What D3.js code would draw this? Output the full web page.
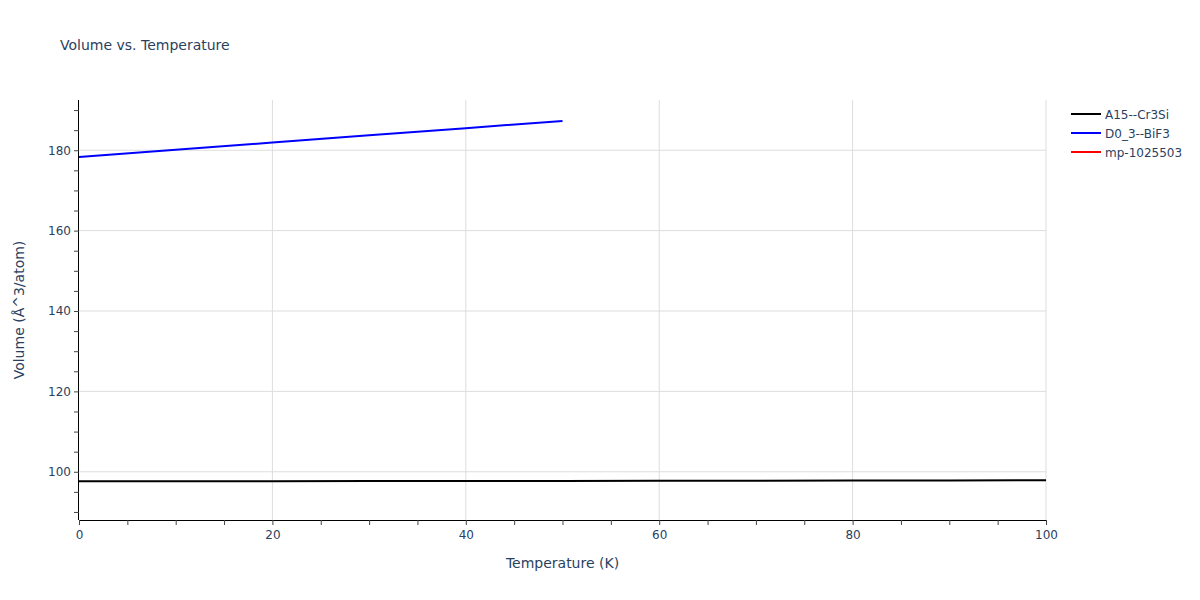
<!DOCTYPE html>
<html><head><meta charset="utf-8">
<script src="https://cdn.jsdelivr.net/npm/d3@7"></script>
<style>body{margin:0;background:#fff}svg{font-family:"DejaVu Sans",Verdana,sans-serif}</style>
</head><body><svg id="c" width="1200" height="600"></svg>
<script>
const seriesNames = ["A15--Cr3Si", "D0_3--BiF3", "mp-1025503"];
const seriesColors = ["#000000", "#0000ff", "#ff0000"];
const tempA15 = [0, 10, 20, 30, 40, 50, 60, 70, 80, 90, 100];
const volA15 = [97.62, 97.64, 97.66, 97.68, 97.70, 97.72, 97.75, 97.78, 97.81, 97.85, 97.89];
const tempBiF3 = [0, 10, 20, 30, 40, 50];
const volBiF3 = [178.3, 180.1, 181.9, 183.7, 185.5, 187.3];
const tempMp = [];
const volMp = [];
const xTicks = [0, 20, 40, 60, 80, 100];
const yTicks = [100, 120, 140, 160, 180];

const svg = d3.select("#c");
const FONT = '"DejaVu Sans",Verdana,sans-serif';
const L = 79, R = 1046, T = 100, B = 520;
const x = d3.scaleLinear().domain([0, 100]).range([L, R]);
const y = d3.scaleLinear().domain([88, 192.5]).range([B, T]);
const labelColor = "#2a3f5f";

// grid
svg.append("g").selectAll("line").data(xTicks.slice(1)).join("line")
  .attr("x1", d => x(d)).attr("x2", d => x(d)).attr("y1", T).attr("y2", B)
  .attr("stroke", "#dddddd").attr("stroke-width", 1);
svg.append("g").selectAll("line").data(yTicks).join("line")
  .attr("x1", L).attr("x2", R).attr("y1", d => y(d)).attr("y2", d => y(d))
  .attr("stroke", "#dddddd").attr("stroke-width", 1);

// axes
const xAxis = d3.axisBottom(x).tickValues(d3.range(0, 101, 5)).tickSize(5)
  .tickFormat(d => xTicks.includes(d) ? d : "");
const gx = svg.append("g").attr("transform", `translate(0,${B})`).call(xAxis);
gx.select(".domain").attr("stroke", "#000").attr("d", `M${L},0.5H${R}`);
gx.selectAll(".tick line").attr("stroke", "#444");
gx.selectAll(".tick text").attr("fill", labelColor).attr("font-size", 12).attr("dy", "0.71em").attr("y", 10)
  .attr("font-family", FONT);

const yAxis = d3.axisLeft(y).tickValues(d3.range(90, 191, 5)).tickSize(5)
  .tickFormat(d => yTicks.includes(d) ? d : "");
const gy = svg.append("g").attr("transform", `translate(${L},0)`).call(yAxis);
gy.select(".domain").attr("stroke", "#000").attr("d", `M-0.5,${T}V${B}`);
gy.selectAll(".tick line").attr("stroke", "#444");
gy.selectAll(".tick text").attr("fill", labelColor).attr("font-size", 12).attr("x", -8)
  .attr("font-family", FONT);

// lines
const line = d3.line().x(d => x(d[0])).y(d => y(d[1]));
const data = [
  d3.zip(tempA15, volA15),
  d3.zip(tempBiF3, volBiF3),
  d3.zip(tempMp, volMp)
];
[2, 0, 1].forEach(i => {
  if (data[i].length) svg.append("path").attr("d", line(data[i])).attr("fill", "none")
    .attr("stroke", seriesColors[i]).attr("stroke-width", 2);
});

// titles
svg.append("text").attr("x", 60).attr("y", 50).attr("font-size", 14).attr("fill", labelColor)
  .text("Volume vs. Temperature");
svg.append("text").attr("x", (L + R) / 2).attr("y", 568).attr("text-anchor", "middle")
  .attr("font-size", 14).attr("fill", labelColor).text("Temperature (K)");
svg.append("text").attr("transform", `translate(24,${(T + B) / 2}) rotate(-90)`).attr("text-anchor", "middle")
  .attr("font-size", 14).attr("fill", labelColor).text("Volume (Å^3/atom)");

// legend
const lg = svg.append("g").selectAll("g").data(seriesNames).join("g")
  .attr("transform", (d, i) => `translate(1071,${114 + i * 19})`);
lg.append("line").attr("x1", 0).attr("x2", 30).attr("stroke", (d, i) => seriesColors[i]).attr("stroke-width", 2);
lg.append("text").attr("x", 34).attr("y", 4.5).attr("font-size", 12).attr("fill", labelColor).text(d => d);
</script></body></html>
